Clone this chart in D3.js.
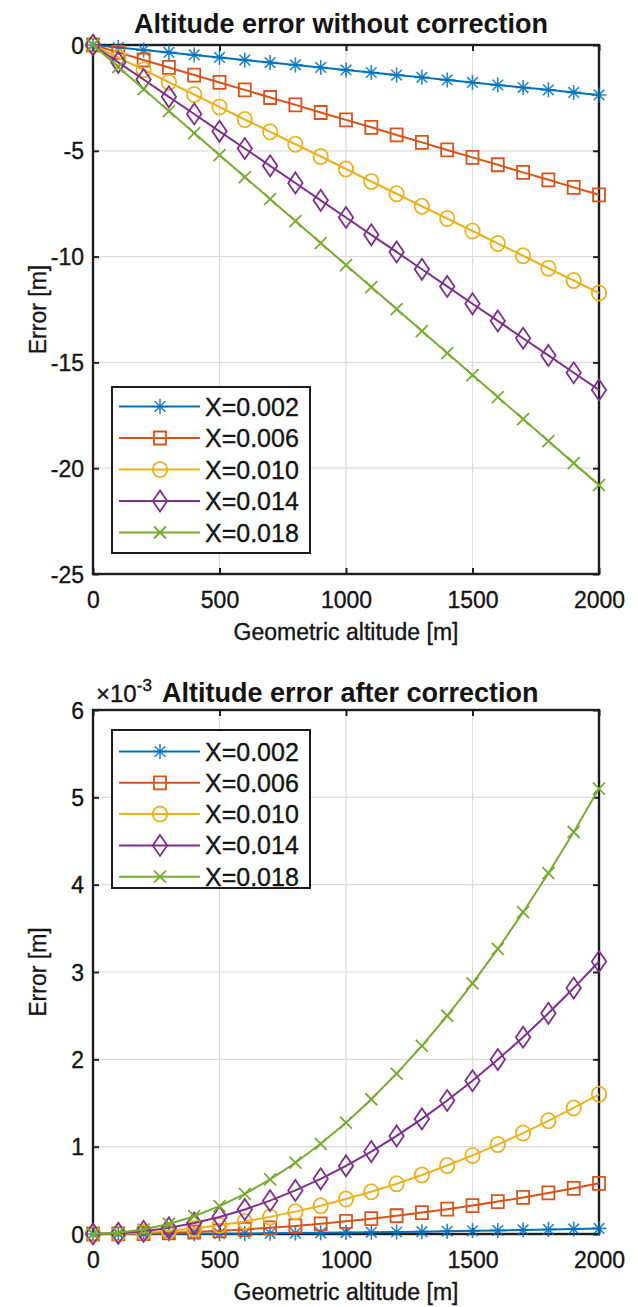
<!DOCTYPE html>
<html>
<head>
<meta charset="utf-8">
<script src="https://cdn.jsdelivr.net/npm/d3@7"></script>
<style>
  html, body { margin: 0; padding: 0; background: #fff; }
  svg text { font-family: "Liberation Sans", Arial, Helvetica, sans-serif; fill: #141414; }
  svg text.soft { stroke: #141414; stroke-width: 0.35px; }
</style>
</head>
<body>
<svg id="fig" width="638" height="1307"></svg>
<script>
// Geometric altitude samples [m]
const altitudes = [0, 100, 200, 300, 400, 500, 600, 700, 800, 900, 1000,
                   1100, 1200, 1300, 1400, 1500, 1600, 1700, 1800, 1900, 2000];

const seriesLabels = ["X=0.002", "X=0.006", "X=0.010", "X=0.014", "X=0.018"];

// Altitude error without correction [m]
const rawX002 = [0, -0.12, -0.24, -0.35, -0.47, -0.59, -0.71, -0.83, -0.94, -1.06, -1.18,
                 -1.30, -1.42, -1.53, -1.65, -1.77, -1.89, -2.01, -2.12, -2.24, -2.36];
const rawX006 = [0, -0.35, -0.71, -1.06, -1.42, -1.77, -2.12, -2.48, -2.83, -3.19, -3.54,
                 -3.89, -4.25, -4.60, -4.96, -5.31, -5.66, -6.02, -6.37, -6.73, -7.08];
const rawX010 = [0, -0.59, -1.17, -1.76, -2.34, -2.93, -3.52, -4.10, -4.69, -5.27, -5.86,
                 -6.45, -7.03, -7.62, -8.20, -8.79, -9.38, -9.96, -10.55, -11.13, -11.72];
const rawX014 = [0, -0.82, -1.63, -2.45, -3.26, -4.08, -4.89, -5.71, -6.52, -7.34, -8.15,
                 -8.97, -9.78, -10.60, -11.41, -12.23, -13.04, -13.86, -14.67, -15.49, -16.30];
const rawX018 = [0, -1.04, -2.08, -3.12, -4.16, -5.20, -6.24, -7.28, -8.32, -9.36, -10.40,
                 -11.44, -12.48, -13.52, -14.56, -15.60, -16.64, -17.68, -18.72, -19.76, -20.80];

// Altitude error after correction [x10^-3 m]
const corrX002 = [0, 0.0002, 0.0006, 0.0014, 0.0026, 0.004, 0.0058, 0.0078, 0.0102, 0.013, 0.016,
                  0.0194, 0.023, 0.027, 0.0314, 0.036, 0.041, 0.0462, 0.0518, 0.0578, 0.064];
const corrX006 = [0, 0.0015, 0.006, 0.013, 0.023, 0.036, 0.052, 0.071, 0.093, 0.117, 0.145,
                  0.175, 0.209, 0.245, 0.284, 0.326, 0.371, 0.419, 0.470, 0.523, 0.58];
const corrX010 = [0, 0.004, 0.016, 0.036, 0.064, 0.10, 0.144, 0.196, 0.256, 0.324, 0.40,
                  0.484, 0.576, 0.676, 0.784, 0.90, 1.024, 1.156, 1.296, 1.444, 1.60];
const corrX014 = [0, 0.008, 0.031, 0.070, 0.125, 0.195, 0.281, 0.382, 0.499, 0.632, 0.78,
                  0.944, 1.123, 1.318, 1.529, 1.755, 1.997, 2.254, 2.527, 2.816, 3.12];
const corrX018 = [0, 0.013, 0.051, 0.115, 0.204, 0.319, 0.459, 0.625, 0.816, 1.033, 1.275,
                  1.543, 1.836, 2.155, 2.499, 2.869, 3.264, 3.685, 4.131, 4.603, 5.10];

const xTicks = [0, 500, 1000, 1500, 2000];
const rawTicks = [0, -5, -10, -15, -20, -25];
const corrTicks = [0, 1, 2, 3, 4, 5, 6];

const colors = ["#0072BD", "#D95319", "#EDB120", "#7E2F8E", "#77AC30"];
const markerKinds = ["asterisk", "square", "circle", "diamond", "times"];

// Marker outlines, centred on the origin
function markerPath(kind) {
  switch (kind) {
    case "asterisk": {
      const s = 7.5, a = 5.3;
      return `M0,${-s}V${s}M${-s},0H${s}M${-a},${-a}L${a},${a}M${-a},${a}L${a},${-a}`;
    }
    case "square": return "M-6,-6.5H6V6.5H-6Z";
    case "circle": return "M7.2,0A7.2,7.6 0 1 1 -7.2,0A7.2,7.6 0 1 1 7.2,0Z";
    case "diamond": return "M0,-10.5L7.2,0L0,10.5L-7.2,0Z";
    case "times": {
      const a = 6;
      return `M${-a},${-a}L${a},${a}M${-a},${a}L${a},${-a}`;
    }
  }
}

function drawMarker(g, kind, color, x, y) {
  g.append("path")
    .attr("d", markerPath(kind))
    .attr("transform", `translate(${x},${y})`)
    .attr("fill", "none")
    .attr("stroke", color)
    .attr("stroke-width", kind === "asterisk" ? 1.6 : 1.8)
    .attr("stroke-opacity", kind === "asterisk" ? 0.85 : 1);
}

const svg = d3.select("#fig");
const intFmt = d3.format("d");

function drawPanel(opt) {
  const x = d3.scaleLinear().domain([0, 2000]).range([opt.left, opt.right]);
  const y = d3.scaleLinear().domain(opt.yDomain).range([opt.bottom, opt.top]);
  const g = svg.append("g");

  // grid
  g.append("g").selectAll("line").data(xTicks.slice(1, -1)).join("line")
    .attr("x1", d => x(d)).attr("x2", d => x(d))
    .attr("y1", opt.top).attr("y2", opt.bottom)
    .attr("stroke", "#dcdcdc").attr("stroke-width", 1.2);
  g.append("g").selectAll("line").data(opt.yTicks).join("line")
    .attr("x1", opt.left).attr("x2", opt.right)
    .attr("y1", d => y(d)).attr("y2", d => y(d))
    .attr("stroke", "#dcdcdc").attr("stroke-width", 1.2);

  // bottom / top axes with inward ticks
  const tl = 6;
  const xAxisB = d3.axisBottom(x).tickValues(xTicks).tickSizeInner(-tl).tickSizeOuter(0)
    .tickFormat(intFmt);
  const gxb = g.append("g").attr("transform", `translate(0,${opt.bottom})`).call(xAxisB);
  gxb.select(".domain").remove();
  gxb.selectAll(".tick line").attr("stroke", "#222").attr("stroke-width", 2);
  gxb.selectAll(".tick text").attr("font-size", 23).attr("fill", "#141414").attr("class", "soft")
    .attr("dy", null).attr("y", 34);

  const xAxisT = d3.axisTop(x).tickValues(xTicks).tickSizeInner(-tl).tickSizeOuter(0).tickFormat("");
  const gxt = g.append("g").attr("transform", `translate(0,${opt.top})`).call(xAxisT);
  gxt.select(".domain").remove();
  gxt.selectAll(".tick line").attr("stroke", "#222").attr("stroke-width", 2);

  const yAxisL = d3.axisLeft(y).tickValues(opt.yTicks).tickSizeInner(-tl).tickSizeOuter(0)
    .tickFormat(d => intFmt(d).replace("\u2212", "-"));
  const gyl = g.append("g").attr("transform", `translate(${opt.left},0)`).call(yAxisL);
  gyl.select(".domain").remove();
  gyl.selectAll(".tick line").attr("stroke", "#222").attr("stroke-width", 2);
  gyl.selectAll(".tick text").attr("font-size", 23).attr("fill", "#141414").attr("class", "soft")
    .attr("x", -9).attr("dy", "0.35em");

  const yAxisR = d3.axisRight(y).tickValues(opt.yTicks).tickSizeInner(-tl).tickSizeOuter(0).tickFormat("");
  const gyr = g.append("g").attr("transform", `translate(${opt.right},0)`).call(yAxisR);
  gyr.select(".domain").remove();
  gyr.selectAll(".tick line").attr("stroke", "#222").attr("stroke-width", 2);

  // axes box
  g.append("rect")
    .attr("x", opt.left).attr("y", opt.top)
    .attr("width", opt.right - opt.left).attr("height", opt.bottom - opt.top)
    .attr("fill", "none").attr("stroke", "#1c1c1c").attr("stroke-width", 2.4);

  // series
  const line = d3.line().x((d, i) => x(altitudes[i])).y(d => y(d));
  opt.series.forEach((vals, k) => {
    g.append("path").datum(vals)
      .attr("d", line)
      .attr("fill", "none")
      .attr("stroke", colors[k])
      .attr("stroke-width", 2);
    vals.forEach((v, i) => drawMarker(g, markerKinds[k], colors[k], x(altitudes[i]), y(v)));
  });

  // axis labels
  g.append("text").attr("class", "soft")
    .attr("x", (opt.left + opt.right) / 2).attr("y", opt.bottom + 66)
    .attr("text-anchor", "middle").attr("font-size", 23)
    .text("Geometric altitude [m]");
  g.append("text").attr("class", "soft")
    .attr("transform", `translate(46,${(opt.top + opt.bottom) / 2}) rotate(-90)`)
    .attr("text-anchor", "middle").attr("font-size", 23)
    .text("Error [m]");

  // legend
  const L = opt.legend;
  const lg = svg.append("g");
  lg.append("rect")
    .attr("x", L.x).attr("y", L.y).attr("width", L.w).attr("height", L.h)
    .attr("fill", "#fff").attr("stroke", "#1c1c1c").attr("stroke-width", 2);
  seriesLabels.forEach((lab, k) => {
    const ry = L.row0 + k * L.step;
    lg.append("line")
      .attr("x1", L.x + 7).attr("x2", L.x + 88)
      .attr("y1", ry).attr("y2", ry)
      .attr("stroke", colors[k]).attr("stroke-width", 2);
    drawMarker(lg, markerKinds[k], colors[k], L.x + 48, ry);
    lg.append("text").attr("class", "soft")
      .attr("x", L.x + 93).attr("y", ry + 9)
      .attr("font-size", 25)
      .text(lab);
  });
  return g;
}

// Panel 1: without correction
drawPanel({
  left: 93, right: 599, top: 45, bottom: 574,
  yDomain: [-25, 0], yTicks: rawTicks,
  series: [rawX002, rawX006, rawX010, rawX014, rawX018],
  legend: { x: 112, y: 387, w: 198, h: 166, row0: 406.5, step: 31.5 }
});
svg.append("text")
  .attr("x", 341).attr("y", 33)
  .attr("text-anchor", "middle")
  .attr("font-size", 27).attr("font-weight", "bold")
  .text("Altitude error without correction");

// Panel 2: after correction (values in units of 10^-3 m)
drawPanel({
  left: 93, right: 599, top: 710, bottom: 1234,
  yDomain: [0, 6], yTicks: corrTicks,
  series: [corrX002, corrX006, corrX010, corrX014, corrX018],
  legend: { x: 112, y: 730, w: 198, h: 158, row0: 751.5, step: 31.3 }
});
const expo = svg.append("text").attr("class", "soft").attr("x", 96).attr("y", 702).attr("font-size", 24);
expo.append("tspan").text("\u00d710");
expo.append("tspan").attr("font-size", 17).attr("dy", -11).text("-3");
svg.append("text")
  .attr("x", 162).attr("y", 702)
  .attr("font-size", 27).attr("font-weight", "bold")
  .text("Altitude error after correction");
</script>
</body>
</html>
